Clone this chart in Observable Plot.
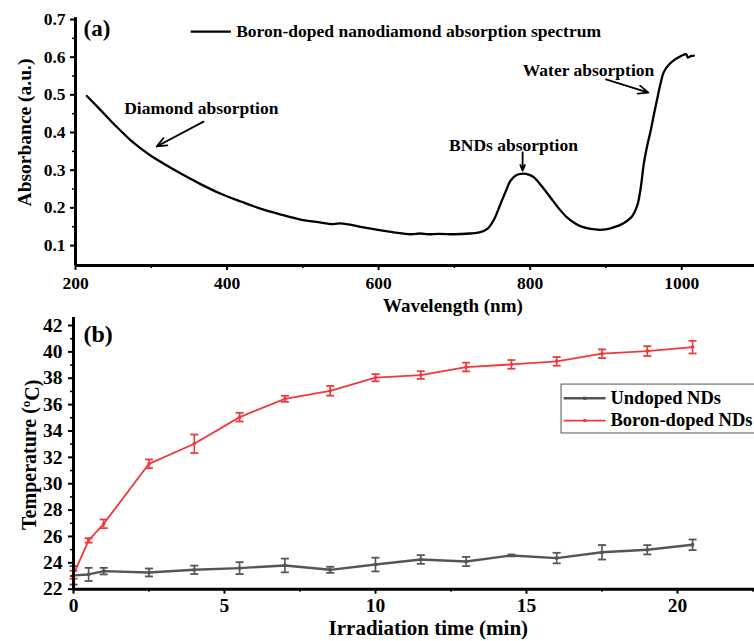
<!DOCTYPE html>
<html>
<head>
<meta charset="utf-8">
<script src="https://cdn.jsdelivr.net/npm/d3@7"></script>
<script src="https://cdn.jsdelivr.net/npm/@observablehq/plot@0.6"></script>
<style>
  html, body { margin: 0; padding: 0; background: #fff; }
  #chart { width: 754px; height: 641px; overflow: hidden; }
  #chart svg { display: block; overflow: visible; }
</style>
</head>
<body>
<div id="chart"></div>
<script>
// ---------- Panel (a): absorption spectrum ----------
const wavelengthNm = [215,230,246,260,273,286,299,320,339,365,391,418,444,470,497,520,540,550,560,580,603,620,642,655,665,680,700,720,733,744,752,761,768,774,782,791,798,805,815,827,838,849,860,871,889,900,910,922,933,938,942,946,950,955,959,964,968,972,976,982,989,996,1003,1006,1008,1012,1016];
const absorbance   = [0.497,0.466,0.432,0.404,0.379,0.358,0.339,0.313,0.291,0.263,0.238,0.217,0.198,0.183,0.169,0.162,0.157,0.159,0.156,0.148,0.140,0.135,0.130,0.132,0.130,0.131,0.130,0.132,0.135,0.145,0.168,0.211,0.245,0.272,0.287,0.291,0.288,0.281,0.258,0.227,0.198,0.174,0.158,0.148,0.142,0.143,0.148,0.158,0.174,0.190,0.211,0.255,0.318,0.370,0.405,0.455,0.493,0.530,0.559,0.578,0.591,0.600,0.607,0.608,0.599,0.603,0.604];
const spectrumLabel = "Boron-doped nanodiamond absorption spectrum";
const absTicks = [0.1,0.2,0.3,0.4,0.5,0.6,0.7];
const absMinor = [0.15,0.25,0.35,0.45,0.55,0.65];
const nmTicks = [200,400,600,800,1000];
const nmMinor = [300,500,700,900,1100];

// annotations: label, text position, arrow start/end (data units)
const annLabels = ["Diamond absorption","BNDs absorption","Water absorption"];
const annTextX  = [366, 778, 877];
const annTextY  = [0.464, 0.366, 0.565];
const arrX1 = [369, 790, 900];
const arrY1 = [0.429, 0.347, 0.541];
const arrX2 = [307, 790, 956];
const arrY2 = [0.363, 0.299, 0.506];

// ---------- Panel (b): temperature vs time ----------
const timeMin     = [0,0.5,1,2.5,4,5.5,7,8.5,10,11.5,13,14.5,16,17.5,19,20.5];
const undopedTemp = [23.05,23.12,23.37,23.27,23.47,23.6,23.8,23.47,23.87,24.25,24.1,24.56,24.36,24.8,24.99,25.37];
const undopedErr  = [0.7,0.5,0.25,0.3,0.32,0.45,0.52,0.23,0.52,0.33,0.35,0.07,0.4,0.55,0.35,0.4];
const boronTemp   = [23.1,25.7,26.96,31.51,33.03,35.05,36.44,37.05,38.04,38.24,38.85,39.05,39.28,39.86,40.06,40.36];
const boronErr    = [0.3,0.17,0.33,0.33,0.7,0.33,0.23,0.37,0.27,0.29,0.33,0.33,0.33,0.33,0.37,0.48];
const seriesNames = ["Undoped NDs","Boron-doped NDs"];
const seriesColors = ["#555555","#f0393c"];
const tempTicks = [22,24,26,28,30,32,34,36,38,40,42];
const tempMinor = [23,25,27,29,31,33,35,37,39,41];
const timeTicks = [0,5,10,15,20];
const timeMinor = [2.5,7.5,12.5,17.5,22.5];

const FONT = "'Liberation Serif','Times New Roman',serif";
const spectrum = wavelengthNm.map((nm, i) => ({nm, A: absorbance[i]}));
const ann = annLabels.map((label, i) => ({label, tx: annTextX[i], ty: annTextY[i], x1: arrX1[i], y1: arrY1[i], x2: arrX2[i], y2: arrY2[i]}));

const cap = {draw(ctx) { ctx.moveTo(-4, 0); ctx.lineTo(4, 0); }};

const plotA = Plot.plot({
  width: 754, height: 318,
  marginLeft: 75, marginRight: 0, marginTop: 19, marginBottom: 53,
  x: {domain: [200, 1096]},
  y: {domain: [0.047, 0.7]},
  style: {fontFamily: FONT, fontWeight: "bold", fontSize: "17.5px", color: "#000", background: "transparent", overflow: "visible"},
  marks: [
    Plot.axisY({ticks: absTicks, tickSize: 5, tickPadding: 5, strokeWidth: 2, tickFormat: d3.format(".1f"), label: null}),
    Plot.axisY({ticks: absMinor, tickSize: 3, strokeWidth: 1.5, tickFormat: () => "", label: null}),
    Plot.axisX({ticks: nmTicks, tickSize: 5, tickPadding: 6, strokeWidth: 2, tickFormat: d3.format("d"), label: null}),
    Plot.axisX({ticks: nmMinor, tickSize: 3, strokeWidth: 1.5, tickFormat: () => "", label: null}),
    Plot.ruleY([0.047], {stroke: "#000", strokeWidth: 3}),
    Plot.ruleX([200], {y1: 0.047, y2: 0.705, stroke: "#000", strokeWidth: 3}),
    Plot.line(spectrum, {x: "nm", y: "A", stroke: "#000", strokeWidth: 2.3, curve: "catmull-rom"}),
    Plot.text(ann, {x: "tx", y: "ty", text: "label", fontSize: 17.5, textAnchor: "middle", lineAnchor: "middle"}),
    Plot.arrow(ann, {x1: "x1", y1: "y1", x2: "x2", y2: "y2", stroke: "#000", strokeWidth: 1.8, headLength: 9, headAngle: 45}),
    Plot.text(["(a)"], {x: 210.6, y: 0.676, fontSize: 23, textAnchor: "start", lineAnchor: "middle"}),
    Plot.link([spectrumLabel], {x1: 352, x2: 405, y1: 0.668, y2: 0.668, stroke: "#000", strokeWidth: 2.3}),
    Plot.text([spectrumLabel], {x: 412, y: 0.668, fontSize: 17.5, textAnchor: "start", lineAnchor: "middle"}),
    Plot.text(["Wavelength (nm)"], {x: 698, frameAnchor: "bottom", dy: 40, fontSize: 19, lineAnchor: "middle"}),
    Plot.text(["Absorbance (a.u.)"], {x: 132.5, y: 0.4, rotate: -90, fontSize: 19.5, lineAnchor: "middle"})
  ]
});

const undoped = timeMin.map((t, i) => ({t, v: undopedTemp[i], e: undopedErr[i]}));
const boron = timeMin.map((t, i) => ({t, v: boronTemp[i], e: boronErr[i]}));

function seriesMarks(data, color, lw, symbol, r) {
  return [
    Plot.ruleX(data, {x: "t", y1: d => d.v - d.e, y2: d => d.v + d.e, stroke: color, strokeWidth: 1.6}),
    Plot.dot(data, {x: "t", y: d => d.v - d.e, symbol: cap, stroke: color, strokeWidth: 1.8, fill: "none"}),
    Plot.dot(data, {x: "t", y: d => d.v + d.e, symbol: cap, stroke: color, strokeWidth: 1.8, fill: "none"}),
    Plot.line(data, {x: "t", y: "v", stroke: color, strokeWidth: lw}),
    Plot.dot(data, {x: "t", y: "v", symbol, r, fill: color, stroke: "none"})
  ];
}

const legendY = [36.48, 34.79];
const legend = seriesNames.map((name, i) => ({name, color: seriesColors[i], y: legendY[i]}));

const plotB = Plot.plot({
  width: 754, height: 323,
  marginLeft: 73, marginRight: 0, marginTop: 7, marginBottom: 52.3,
  x: {domain: [0, 22.55]},
  y: {domain: [22, 42]},
  style: {fontFamily: FONT, fontWeight: "bold", fontSize: "19.5px", color: "#000", background: "transparent", overflow: "visible"},
  marks: [
    Plot.axisY({ticks: tempTicks, tickSize: 5, tickPadding: 6, strokeWidth: 2, tickFormat: d3.format("d"), label: null}),
    Plot.axisY({ticks: tempMinor, tickSize: 3, strokeWidth: 1.5, tickFormat: () => "", label: null}),
    Plot.axisX({ticks: timeTicks, tickSize: 5, tickPadding: 4, strokeWidth: 2, tickFormat: d3.format("d"), label: null}),
    Plot.axisX({ticks: timeMinor, tickSize: 3, strokeWidth: 1.5, tickFormat: () => "", label: null}),
    ...seriesMarks(undoped, seriesColors[0], 2.4, "square", 1.8),
    ...seriesMarks(boron, seriesColors[1], 1.8, "circle", 1.8),
    Plot.ruleY([22], {stroke: "#000", strokeWidth: 3}),
    Plot.ruleX([0], {y1: 22, y2: 42.6, stroke: "#000", strokeWidth: 3}),
    Plot.text(["(b)"], {x: 0.33, y: 41.32, fontSize: 24, textAnchor: "start", lineAnchor: "middle"}),
    Plot.rect([0], {x1: 16.16, x2: 22.8, y1: 33.81, y2: 37.52, fill: "#fff", stroke: "#555", strokeWidth: 1}),
    Plot.link(legend, {x1: 16.23, x2: 17.62, y1: "y", y2: "y", stroke: "color", strokeWidth: d => d.name === seriesNames[0] ? 2.4 : 1.8}),
    Plot.dot(legend, {x: 16.93, y: "y", r: 1.8, fill: "color", symbol: d => d.name === seriesNames[0] ? "square" : "circle"}),
    Plot.text(legend, {x: 17.78, y: "y", text: "name", fontSize: 18.5, textAnchor: "start", lineAnchor: "middle"}),
    Plot.text(["Irradiation time (min)"], {x: 11.75, frameAnchor: "bottom", dy: 39.5, fontSize: 21, lineAnchor: "middle"}),
    Plot.text(["Temperature (oC)"], {x: -1.46, y: 32.2, rotate: -90, fontSize: 20, lineAnchor: "middle"})
  ]
});

const chart = document.getElementById("chart");
chart.append(plotA, plotB);

// superscript "o" in the temperature label
for (const t of plotB.querySelectorAll("text")) {
  if (t.textContent === "Temperature (oC)") {
    t.textContent = "";
    const ns = "http://www.w3.org/2000/svg";
    const a = document.createElementNS(ns, "tspan"); a.textContent = "Temperature (";
    const b = document.createElementNS(ns, "tspan"); b.textContent = "o"; b.setAttribute("dy", "-0.45em"); b.setAttribute("font-size", "65%");
    const c = document.createElementNS(ns, "tspan"); c.textContent = "C)"; c.setAttribute("dy", "0.45em");
    t.append(a, b, c);
  }
}
</script>
</body>
</html>
